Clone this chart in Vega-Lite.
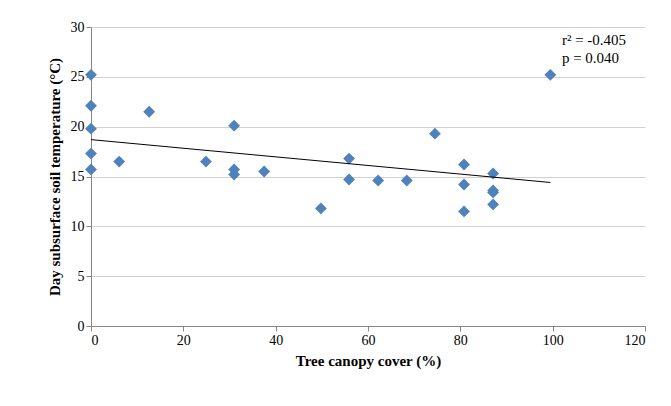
{
  "$schema": "https://vega.github.io/schema/vega-lite/v6.json",
  "width": 554,
  "height": 299,
  "autosize": "none",
  "padding": {"left": 91, "top": 27, "right": 26, "bottom": 80},
  "background": "white",
  "config": {
    "view": {"stroke": null},
    "font": "Liberation Serif",
    "axis": {
      "labelFont": "Liberation Serif",
      "titleFont": "Liberation Serif",
      "labelFontSize": 14,
      "titleFontSize": 15,
      "titleFontWeight": "bold",
      "labelColor": "#000",
      "titleColor": "#000",
      "domainColor": "#868686",
      "tickColor": "#868686",
      "gridColor": "#d0d0d0"
    }
  },
  "datasets": {
    "pts": [
      {"cover": 0, "temp": 25.2}, {"cover": 0, "temp": 22.1}, {"cover": 0, "temp": 19.8},
      {"cover": 0, "temp": 17.3}, {"cover": 0, "temp": 15.7}, {"cover": 6.1, "temp": 16.5},
      {"cover": 12.6, "temp": 21.5}, {"cover": 24.9, "temp": 16.5}, {"cover": 31, "temp": 20.1},
      {"cover": 31, "temp": 15.7}, {"cover": 31, "temp": 15.2}, {"cover": 37.5, "temp": 15.5},
      {"cover": 49.8, "temp": 11.8}, {"cover": 55.9, "temp": 16.8}, {"cover": 55.9, "temp": 14.7},
      {"cover": 62.2, "temp": 14.6}, {"cover": 68.4, "temp": 14.6}, {"cover": 74.5, "temp": 19.3},
      {"cover": 80.8, "temp": 16.2}, {"cover": 80.8, "temp": 14.2}, {"cover": 80.8, "temp": 11.5},
      {"cover": 87.1, "temp": 15.3}, {"cover": 87.1, "temp": 13.6}, {"cover": 87.1, "temp": 13.4},
      {"cover": 87.1, "temp": 12.2}, {"cover": 99.5, "temp": 25.2}
    ],
    "trend": [{"cover": 0, "temp": 18.7}, {"cover": 99.5, "temp": 14.4}],
    "note": [{"cover": 102, "temp": 28.7, "t": "r² = -0.405"}, {"cover": 102, "temp": 26.9, "t": "p = 0.040"}]
  },
  "layer": [
    {
      "data": {"name": "pts"},
      "mark": {"type": "point", "shape": "diamond", "filled": true, "color": "#4F81BD", "size": 140, "opacity": 1},
      "encoding": {
        "x": {"field": "cover", "type": "quantitative", "title": "Tree canopy cover (%)",
              "scale": {"domain": [0, 120]}, "axis": {"values": [0, 20, 40, 60, 80, 100, 120], "grid": false, "tickSize": 5, "titlePadding": 6}},
        "y": {"field": "temp", "type": "quantitative", "title": "Day subsurface soil temperature (°C)",
              "scale": {"domain": [0, 30]}, "axis": {"values": [0, 5, 10, 15, 20, 25, 30], "tickSize": 5, "titlePadding": 8}}
      }
    },
    {
      "data": {"name": "trend"},
      "mark": {"type": "line", "color": "#000", "strokeWidth": 1},
      "encoding": {"x": {"field": "cover", "type": "quantitative"}, "y": {"field": "temp", "type": "quantitative"}}
    },
    {
      "data": {"name": "note"},
      "mark": {"type": "text", "align": "left", "fontSize": 15, "font": "Liberation Serif", "color": "#000"},
      "encoding": {"x": {"field": "cover", "type": "quantitative"}, "y": {"field": "temp", "type": "quantitative"}, "text": {"field": "t"}}
    }
  ]
}
